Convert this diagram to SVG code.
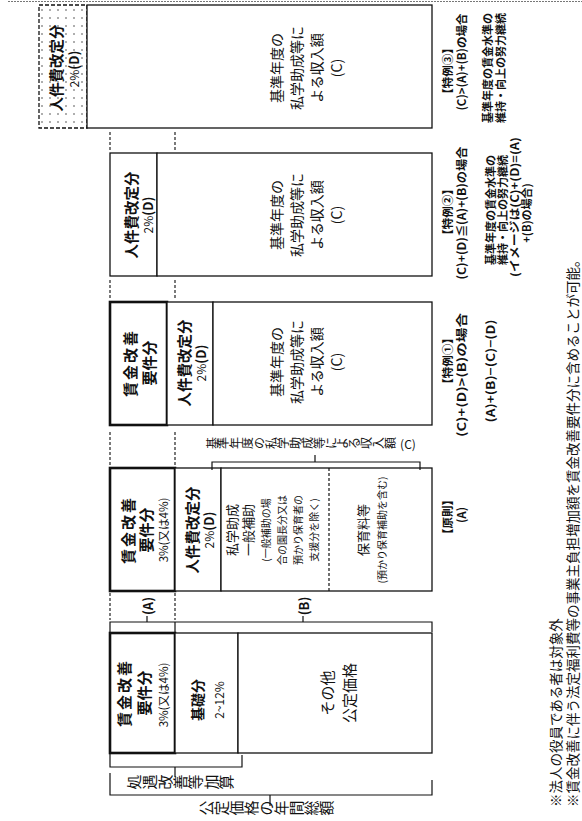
<svg xmlns="http://www.w3.org/2000/svg" width="582" height="821" viewBox="0 0 582 821">
<style>
text{font-family:"Noto Sans CJK JP","Noto Sans",sans-serif;fill:#111;text-anchor:middle;dominant-baseline:central}
.b{font-weight:bold}
.box{fill:#fff;stroke:#111;stroke-width:1.3}
.thick{stroke-width:2.6}
.guide{stroke:#222;stroke-width:1.2;stroke-dasharray:3 2;fill:none}
.br{fill:none;stroke:#111;stroke-width:1.2}
</style>
<defs>
<pattern id="d8" width="8" height="8" patternUnits="userSpaceOnUse"><circle cx="2" cy="2" r="0.75" fill="#333"/></pattern>
<pattern id="d5" width="5" height="5" patternUnits="userSpaceOnUse"><circle cx="1" cy="1" r="0.6" fill="#444"/></pattern>
<pattern id="grid" width="9" height="9" patternUnits="userSpaceOnUse"><path d="M0,0.5H9M0.5,0V9" stroke="#444" stroke-width="0.8" stroke-dasharray="1.2 1"/></pattern>
</defs>
<rect width="582" height="821" fill="#fff"/>
<line x1="8" y1="1.5" x2="582" y2="1.5" stroke="#777" stroke-width="1" stroke-dasharray="2 1"/>

<!-- Band 5 : 特例③ -->
<g id="t3-jinken">
<rect x="39" y="5" width="48" height="123" fill="url(#d8)" stroke="#111" stroke-width="1.3" stroke-dasharray="4 2"/>
<text transform="translate(55,68) rotate(-90)" class="b" font-size="14.5">人件費改定分</text>
<text transform="translate(73,69) rotate(-90)" font-size="12">2%<tspan class="b" font-size="13">(D)</tspan></text>
</g>
<g id="t3-c">
<rect class="box" x="87" y="5" width="345" height="123"/>
<g transform="translate(0,68) rotate(-90)" font-size="14">
<text y="276">基準年度の</text><text y="296">私学助成等に</text><text y="316">よる収入額</text><text y="336">(C)</text>
</g>
</g>

<!-- Band 4 : 特例② -->
<g id="t2-jinken">
<rect class="box" x="110" y="153" width="47" height="123" fill="url(#d8)"/>
<text transform="translate(130,215) rotate(-90)" class="b" font-size="14.5">人件費改定分</text>
<text transform="translate(147,215) rotate(-90)" font-size="12">2%<tspan class="b" font-size="13">(D)</tspan></text>
</g>
<g id="t2-c">
<rect class="box" x="157" y="153" width="275" height="123"/>
<g transform="translate(0,215) rotate(-90)" font-size="14">
<text y="276">基準年度の</text><text y="296">私学助成等に</text><text y="316">よる収入額</text><text y="336">(C)</text>
</g>
</g>

<!-- Band 3 : 特例① -->
<g id="t1-chingin">
<rect class="box thick" x="110" y="302" width="57" height="123" fill="url(#d5)"/>
<text transform="translate(129,363) rotate(-90)" class="b" font-size="15" letter-spacing="2">賃金改善</text>
<text transform="translate(148,363) rotate(-90)" class="b" font-size="15">要件分</text>
</g>
<g id="t1-jinken">
<rect class="box" x="167" y="302" width="46" height="123" fill="url(#d8)"/>
<text transform="translate(183,363) rotate(-90)" class="b" font-size="14.5">人件費改定分</text>
<text transform="translate(200,363) rotate(-90)" font-size="12">2%<tspan class="b" font-size="13">(D)</tspan></text>
</g>
<g id="t1-c">
<rect class="box" x="213" y="302" width="219" height="123"/>
<g transform="translate(0,362) rotate(-90)" font-size="14">
<text y="276">基準年度の</text><text y="296">私学助成等に</text><text y="316">よる収入額</text><text y="336">(C)</text>
</g>
</g>

<!-- Band 2 : 原則 -->
<g id="g-chingin">
<rect class="box thick" x="110" y="468" width="65" height="123" fill="url(#d5)"/>
<text transform="translate(127,530) rotate(-90)" class="b" font-size="15" letter-spacing="2">賃金改善</text>
<text transform="translate(145,530) rotate(-90)" class="b" font-size="15">要件分</text>
<text transform="translate(163,530) rotate(-90)" font-size="11.5">3%(又は4%)</text>
</g>
<g id="g-jinken">
<rect class="box" x="175" y="468" width="46" height="123" fill="url(#d8)"/>
<text transform="translate(191,530) rotate(-90)" class="b" font-size="14.5">人件費改定分</text>
<text transform="translate(208,530) rotate(-90)" font-size="12">2%<tspan class="b" font-size="13">(D)</tspan></text>
</g>
<g id="g-shigaku">
<rect class="box" x="221" y="468" width="211" height="123"/>
<g transform="translate(0,530) rotate(-90)">
<text y="231" font-size="13">私学助成</text><text y="247" font-size="13">一般補助</text>
<text y="265" font-size="10">(一般補助の場</text><text y="281" font-size="10">合の園長分又は</text><text y="297" font-size="10">預かり保育者の</text><text y="313" font-size="10">支援分を除く)</text>
</g>
</g>
<g id="g-hoikuryo">
<line x1="329" y1="468" x2="329" y2="591" stroke="#111" stroke-width="1.2" stroke-dasharray="3 2"/>
<g transform="translate(0,530) rotate(-90)">
<text y="362" font-size="13">保育料等</text><text y="381" font-size="10">(預かり保育補助を含む)</text>
</g>
</g>

<!-- Band 1 : 公定価格 -->
<g id="k-chingin">
<rect class="box thick" x="110" y="633" width="65" height="120" fill="url(#d5)"/>
<text transform="translate(123,693) rotate(-90)" class="b" font-size="15" letter-spacing="2">賃金改善</text>
<text transform="translate(143,693) rotate(-90)" class="b" font-size="15">要件分</text>
<text transform="translate(163,695) rotate(-90)" font-size="11.5">3%(又は4%)</text>
</g>
<g id="k-kiso">
<rect class="box" x="175" y="633" width="63" height="120" fill="url(#grid)"/>
<text transform="translate(197,700) rotate(-90)" class="b" font-size="14">基礎分</text>
<text transform="translate(218,700) rotate(-90)" font-size="12">2~12%</text>
</g>
<g id="k-sonota">
<rect class="box" x="238" y="633" width="194" height="120"/>
<text transform="translate(326,693) rotate(-90)" font-size="15">その他</text>
<text transform="translate(348,693) rotate(-90)" font-size="15">公定価格</text>
</g>

<!-- connectors: guides and brackets -->
<g id="connectors">
<path class="guide" d="M110,132V150M175,132V150M110,280V299M175,280V299M110,432V466M175,432V466M110,593V620M175,593V620"/>
<path class="br" d="M212,470V462H420V470M315,462V455"/>
<path class="br" d="M110,632V622H432V632M175,622V632M147,616V622M303,616V622"/>
<path class="br" d="M110,753V767H242V755M175,767V777"/>
<path class="br" d="M110,773V795H432V780M270,795V806"/>
</g>

<!-- bracket labels (vertical text of the upright page: one turned glyph each) -->
<g id="lbl-c" font-size="12">
<text transform="translate(211,443) rotate(-90)">基</text><text transform="translate(222.9,443) rotate(-90)">準</text><text transform="translate(234.8,443) rotate(-90)">年</text><text transform="translate(246.7,443) rotate(-90)">度</text><text transform="translate(258.6,443) rotate(-90)">の</text><text transform="translate(270.5,443) rotate(-90)">私</text><text transform="translate(282.4,443) rotate(-90)">学</text><text transform="translate(294.3,443) rotate(-90)">助</text><text transform="translate(306.2,443) rotate(-90)">成</text><text transform="translate(318.1,443) rotate(-90)">等</text><text transform="translate(330,443) rotate(-90)">に</text><text transform="translate(341.9,443) rotate(-90)">よ</text><text transform="translate(353.8,443) rotate(-90)">る</text><text transform="translate(365.7,443) rotate(-90)">収</text><text transform="translate(377.6,443) rotate(-90)">入</text><text transform="translate(389.5,443) rotate(-90)">額</text>
<text x="408" y="443">(C)</text>
</g>
<g id="lbl-a"><text transform="translate(147,606) rotate(-90)" class="b" font-size="13">(A)</text></g>
<g id="lbl-b"><text transform="translate(303,606) rotate(-90)" class="b" font-size="13">(B)</text></g>
<g id="lbl-shogu" font-size="15">
<text transform="translate(133,782) rotate(-90)">処</text><text transform="translate(148,782) rotate(-90)">遇</text><text transform="translate(164,782) rotate(-90)">改</text><text transform="translate(179,782) rotate(-90)">善</text><text transform="translate(194,782) rotate(-90)">等</text><text transform="translate(210,782) rotate(-90)">加</text><text transform="translate(225,782) rotate(-90)">算</text>
</g>
<g id="lbl-total" font-size="15">
<text transform="translate(205,808) rotate(-90)">公</text><text transform="translate(220,808) rotate(-90)">定</text><text transform="translate(235,808) rotate(-90)">価</text><text transform="translate(250,808) rotate(-90)">格</text><text transform="translate(265,808) rotate(-90)">の</text><text transform="translate(280,808) rotate(-90)">年</text><text transform="translate(295,808) rotate(-90)">間</text><text transform="translate(310,808) rotate(-90)">総</text><text transform="translate(325,808) rotate(-90)">額</text>
</g>

<!-- case labels -->
<g id="case-gensoku" font-size="11.5">
<text transform="translate(447,517) rotate(-90)" class="b">【原則】</text>
<text transform="translate(461,515) rotate(-90)" class="b">(A)</text>
</g>
<g id="case-1" font-size="11.5">
<text transform="translate(447,361) rotate(-90)" class="b">【特例①】</text>
<text transform="translate(461,375) rotate(-90)" class="b" textLength="124" lengthAdjust="spacingAndGlyphs">(C)+(D)&gt;(B)の場合</text>
<text transform="translate(490,371) rotate(-90)" class="b" textLength="103" lengthAdjust="spacingAndGlyphs">(A)+(B)−(C)−(D)</text>
</g>
<g id="case-2" font-size="11">
<text transform="translate(447,212) rotate(-90)" class="b" font-size="11.5">【特例②】</text>
<text transform="translate(461,213) rotate(-90)" class="b" font-size="11.5" textLength="133" lengthAdjust="spacingAndGlyphs">(C)+(D)≦(A)+(B)の場合</text>
<text transform="translate(490,210) rotate(-90)" class="b">基準年度の賃金水準の</text>
<text transform="translate(502,210) rotate(-90)" class="b">維持・向上の努力継続</text>
<text transform="translate(514,207) rotate(-90)" class="b" textLength="140" lengthAdjust="spacingAndGlyphs">(イメージは(C)+(D)=(A)</text>
<text transform="translate(526,213) rotate(-90)" class="b">+(B)の場合)</text>
</g>
<g id="case-3" font-size="11">
<text transform="translate(447,71) rotate(-90)" class="b" font-size="11.5">【特例③】</text>
<text transform="translate(461,62) rotate(-90)" class="b" font-size="11.5" textLength="97" lengthAdjust="spacingAndGlyphs">(C)&gt;(A)+(B)の場合</text>
<text transform="translate(487,68) rotate(-90)" class="b">基準年度の賃金水準の</text>
<text transform="translate(500,68) rotate(-90)" class="b">維持・向上の努力継続</text>
</g>

<!-- notes -->
<g id="notes" font-size="13.5">
<text transform="translate(555,807) rotate(-90)" style="text-anchor:start">※法人の役員である者は対象外</text>
<text transform="translate(572,807) rotate(-90)" style="text-anchor:start">※賃金改善に伴う法定福利費等の事業主負担増加額を賃金改善要件分に含めることが可能。</text>
</g>
</svg>
